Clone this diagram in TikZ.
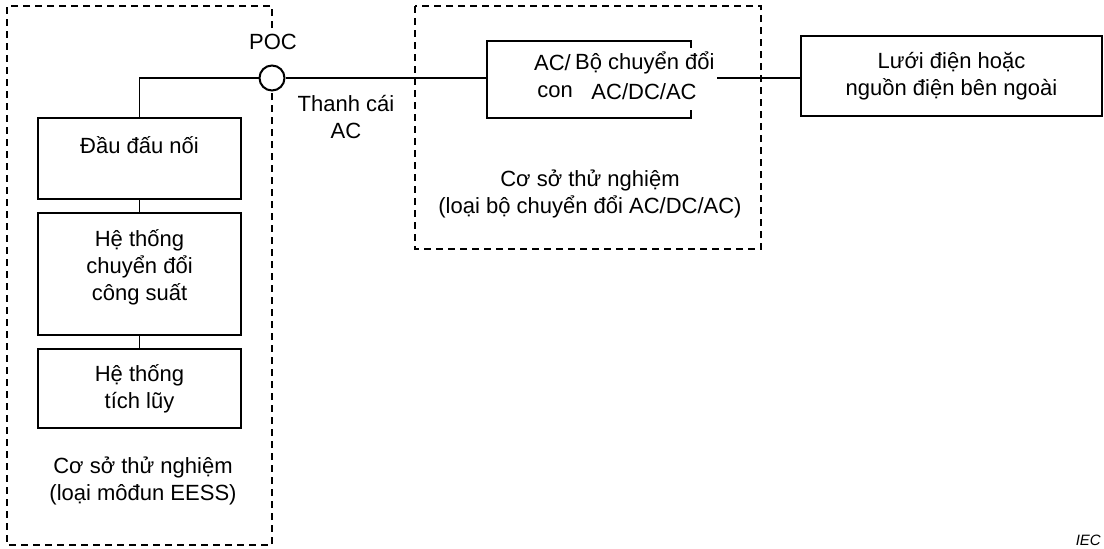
\documentclass[tikz,border=0pt]{standalone}
\usepackage{fontspec}
\setmainfont{Liberation Sans}
\begin{document}
\begin{tikzpicture}[x=1pt,y=-1pt,
  txt/.style={font=\fontsize{22}{27}\selectfont, align=center, inner sep=0pt},
  blk/.style={draw, line width=1.9pt, inner sep=0pt, txt},
  wire/.style={line width=1.9pt},
  frame/.style={line width=1.8pt, dash pattern=on 7pt off 5pt}]
\useasboundingbox (0,0) rectangle (1104,549);

% POC
\node[circle, draw, line width=2pt, fill=white, minimum size=25pt, inner sep=0pt] (poc) at (272,78) {};
\node[txt] (poclbl) at (273,42) {POC};

% left frame
\draw[frame] (272,28) -- (272,6) -- (7,6) -- (7,545) -- (272,545) -- (poc.south);

% right frame
\draw[frame] (415,6) rectangle (761,249);

% left blocks
\node[blk, minimum width=203pt, minimum height=81pt] (b1) at (139.5,158.5) {Đầu đấu nối\\\mbox{}};
\node[draw, line width=1.9pt, minimum width=203pt, minimum height=122pt] (b2) at (139.5,274) {};
\node[txt] (b2t) at (139.5,267) {Hệ thống\\chuyển đổi\\công suất};
\node[blk, minimum width=203pt, minimum height=79pt] (b3) at (139.5,388.5) {Hệ thống\\tích lũy};

\draw[wire] (b1.south) -- (b2.north);
\draw[wire] (b2.south) -- (b3.north);
\draw[wire] (b1.north) |- (poc.west);

% converter
\node[inner sep=0pt, minimum width=204pt, minimum height=77pt] (conv) at (589,79.5) {};
\draw[wire] ([yshift=-7pt]conv.north east) -- (conv.north east) -- (conv.north west) -- (conv.south west) -- (conv.south east) -- ([yshift=8pt]conv.south east);
\node[txt, anchor=east] (ac1) at (571,63) {AC/};
\node[txt, anchor=east] (con) at (573,92) {con};
\node[txt, anchor=west] (bo) at (575,63) {Bộ chuyển đổi};
\node[txt] (acdc) at (644,92) {AC/DC/AC};
\coordinate (convout) at (717,78);

% grid
\node[blk, minimum width=301pt, minimum height=80pt] (grid) at (951.5,76) {Lưới điện hoặc\\nguồn điện bên ngoài};

\draw[wire] (poc.east) -- (poc.east -| conv.west);
\draw[wire] (convout) -- (convout -| grid.west);

% labels
\node[txt] (bus) at (346,117.5) {Thanh cái\\AC};
\node[txt] (lf) at (143,480.5) {Cơ sở thử nghiệm\\(loại môđun EESS)};
\node[txt] (rf) at (590,194) {Cơ sở thử nghiệm\\(loại bộ chuyển đổi AC/DC/AC)};
\node[anchor=south east, inner sep=0pt, font=\fontsize{15}{17}\selectfont\itshape] (iec) at (1101,546) {IEC};
\end{tikzpicture}
\end{document}
